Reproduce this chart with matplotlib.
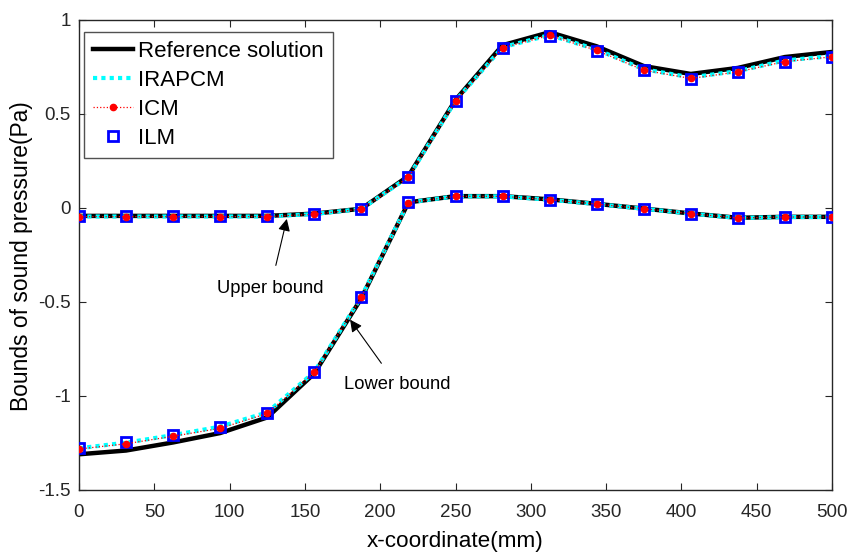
import numpy as np
import matplotlib
matplotlib.use("Agg")
import matplotlib.pyplot as plt

plt.rcParams['font.family'] = ['Liberation Sans', 'DejaVu Sans']

x = [0, 31.25, 62.5, 93.75, 125, 156.25, 187.5, 218.75, 250, 281.25,
     312.5, 343.75, 375, 406.25, 437.5, 468.75, 500]

# Upper-bound curves
ref_up = [-0.042, -0.042, -0.042, -0.042, -0.042, -0.03, -0.004, 0.17, 0.575,
          0.866, 0.935, 0.86, 0.755, 0.713, 0.745, 0.803, 0.83]
irapcm_up = [-0.045, -0.045, -0.045, -0.045, -0.045, -0.032, -0.005, 0.165, 0.57,
             0.855, 0.92, 0.843, 0.738, 0.695, 0.728, 0.785, 0.808]
icm_up = [-0.046, -0.046, -0.046, -0.046, -0.046, -0.033, -0.006, 0.163, 0.568,
          0.852, 0.918, 0.838, 0.733, 0.689, 0.724, 0.779, 0.804]
ilm_up = [-0.045, -0.045, -0.045, -0.045, -0.045, -0.032, -0.005, 0.165, 0.57,
          0.851, 0.916, 0.837, 0.732, 0.688, 0.723, 0.778, 0.803]

# Lower-bound curves
ref_lo = [-1.31, -1.29, -1.247, -1.197, -1.114, -0.88, -0.48, 0.03, 0.063,
          0.063, 0.046, 0.022, -0.003, -0.029, -0.052, -0.047, -0.047]
irapcm_lo = [-1.278, -1.248, -1.208, -1.163, -1.087, -0.872, -0.472, 0.03, 0.062,
             0.062, 0.044, 0.021, -0.004, -0.03, -0.053, -0.048, -0.048]
icm_lo = [-1.282, -1.254, -1.214, -1.172, -1.093, -0.875, -0.474, 0.029, 0.062,
          0.062, 0.044, 0.021, -0.004, -0.03, -0.053, -0.048, -0.048]
ilm_lo = [-1.274, -1.247, -1.207, -1.163, -1.089, -0.874, -0.473, 0.03, 0.062,
          0.062, 0.044, 0.021, -0.004, -0.03, -0.053, -0.048, -0.048]

W, H = 851, 554
L, R, T, B = 79, 832, 20, 490
fig = plt.figure(figsize=(W/100, H/100), dpi=100)
ax = fig.add_axes([L/W, 1-B/H, (R-L)/W, (B-T)/H])

for ref, ira, icm, ilm, lab in [(ref_up, irapcm_up, icm_up, ilm_up, True),
                                (ref_lo, irapcm_lo, icm_lo, ilm_lo, False)]:
    ax.plot(x, ref, color='black', lw=3.2, solid_joinstyle='miter',
            label='Reference solution' if lab else None, zorder=2)
    ax.plot(x, ira, color='cyan', lw=3.0, linestyle=(0, (1, 1)),
            label='IRAPCM' if lab else None, zorder=3)
    ax.plot(x, icm, color='red', lw=0.9, linestyle=':', marker='o', ms=4.5,
            mfc='red', mec='red', label='ICM' if lab else None, zorder=5)
    ax.plot(x, ilm, linestyle='none', marker='s', ms=7.5, mfc='none',
            mec='blue', mew=2.0, label='ILM' if lab else None, zorder=4)

ax.set_xlim(0, 500)
ax.set_ylim(-1.5, 1)
ax.set_xticks(np.arange(0, 501, 50))
ax.set_yticks([-1.5, -1, -0.5, 0, 0.5, 1])
ax.set_yticklabels(['-1.5', '-1', '-0.5', '0', '0.5', '1'])
ax.tick_params(direction='in', top=True, right=True, labelsize=13.5,
               length=5, width=0.8, colors='#262626')
ax.tick_params(axis='x', pad=10)
ax.tick_params(axis='y', pad=6)
for s in ax.spines.values():
    s.set_color('#262626')
    s.set_linewidth(1.0)

ax.set_xlabel('x-coordinate(mm)', fontsize=16.2)
ax.set_ylabel('Bounds of sound pressure(Pa)', fontsize=16.4)
ax.xaxis.set_label_coords(0.5, -(541-B)/(B-T))
ax.xaxis.label.set_verticalalignment('center')
ax.yaxis.set_label_coords(-(L-22)/(R-L), 0.5 - 1/(B-T))
ax.yaxis.label.set_verticalalignment('center')
ax.yaxis.label.set_horizontalalignment('center')

ax.annotate('Upper bound', xy=(138, -0.058), xytext=(127, -0.43),
            ha='center', va='center', fontsize=13.2,
            arrowprops=dict(arrowstyle='-|>', color='black', lw=0.8,
                            mutation_scale=18, shrinkA=9, shrinkB=0))
ax.annotate('Lower bound', xy=(180, -0.594), xytext=(211, -0.94),
            ha='center', va='center', fontsize=13.2,
            arrowprops=dict(arrowstyle='-|>', color='black', lw=0.8,
                            mutation_scale=18, shrinkA=9, shrinkB=0))

leg = ax.legend(loc='upper left', bbox_to_anchor=(5/(R-L), 1-12/(B-T)),
                fontsize=16, frameon=True, fancybox=False,
                edgecolor='#262626', borderpad=0.4, labelspacing=0.36,
                handlelength=1.8, handletextpad=0.25, borderaxespad=0)
leg.get_frame().set_linewidth(1.0)

fig.savefig('out.png', dpi=100)
